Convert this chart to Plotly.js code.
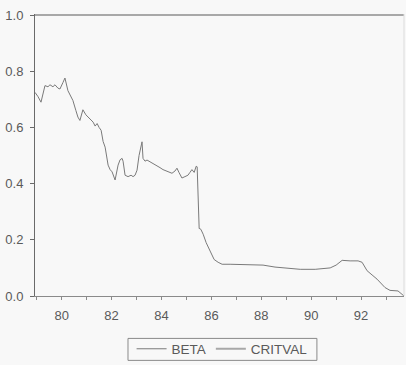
<!DOCTYPE html>
<html>
<head>
<meta charset="utf-8">
<script src="https://cdn.plot.ly/plotly-3.0.1.min.js"></script>
<style>
  html, body { margin: 0; padding: 0; background: #f8f8f8; }
  #chart { width: 406px; height: 365px; }
</style>
</head>
<body>
<div id="chart"></div>
<script>
// Sample dates (decimal years, 2-digit) and the estimated beta path
const dates = [
  78.93, 79.05, 79.17, 79.33, 79.45, 79.53, 79.65, 79.73, 79.85, 79.93,
  80.05, 80.13, 80.25, 80.45, 80.57, 80.65, 80.73, 80.85, 80.97, 81.06,
  81.18, 81.26, 81.34, 81.42, 81.50, 81.58, 81.66, 81.74, 81.86, 81.94,
  82.02, 82.14, 82.26, 82.34, 82.42, 82.46, 82.54, 82.66, 82.78, 82.86,
  82.94, 83.02, 83.10, 83.22, 83.26, 83.34, 83.42, 83.54, 83.66, 83.78,
  83.94, 84.06, 84.22, 84.34, 84.42, 84.54, 84.62, 84.70, 84.82, 84.94,
  85.06, 85.14, 85.22, 85.31, 85.39, 85.43, 85.47, 85.51, 85.55, 85.59,
  85.67, 85.79, 85.95, 86.11, 86.27, 86.43, 86.75, 87.15, 87.55, 88.07,
  88.55, 89.03, 89.56, 90.16, 90.76, 91.00, 91.24, 91.56, 91.88, 92.04,
  92.24, 92.44, 92.64, 92.96, 93.16, 93.48, 93.72
];
const beta = [
  0.725, 0.71, 0.69, 0.749, 0.745, 0.752, 0.745, 0.752, 0.74, 0.737,
  0.76, 0.776, 0.731, 0.696, 0.66, 0.637, 0.625, 0.663, 0.645, 0.636,
  0.625, 0.619, 0.605, 0.614, 0.60, 0.59, 0.55, 0.53, 0.466, 0.45,
  0.442, 0.413, 0.466, 0.485, 0.49, 0.48, 0.43, 0.425, 0.43, 0.425,
  0.43, 0.448, 0.50, 0.549, 0.49, 0.48, 0.484, 0.478, 0.473, 0.467,
  0.457, 0.45, 0.443, 0.44, 0.437, 0.445, 0.455, 0.44, 0.42, 0.425,
  0.43, 0.44, 0.45, 0.44, 0.462, 0.46, 0.30, 0.24, 0.24, 0.235,
  0.22, 0.19, 0.16, 0.13, 0.12, 0.113, 0.113, 0.112, 0.11, 0.11,
  0.103, 0.099, 0.095, 0.095, 0.10, 0.11, 0.127, 0.125, 0.125, 0.12,
  0.09, 0.075, 0.06, 0.03, 0.02, 0.018, 0.0
];
// Critical value of the test statistic
const critDates = [78.93, 93.72];
const critval = [1.0, 1.0];

const yTicks = [0.0, 0.2, 0.4, 0.6, 0.8, 1.0];
const yTickText = ['0.0', '0.2', '0.4', '0.6', '0.8', '1.0'];
const xTicks = [80, 82, 84, 86, 88, 90, 92];
const xTickText = ['80', '82', '84', '86', '88', '90', '92'];

const traces = [
  {
    x: dates, y: beta, name: 'BETA', type: 'scatter', mode: 'lines',
    line: { color: '#7a7a7a', width: 1 }
  },
  {
    x: critDates, y: critval, name: 'CRITVAL', type: 'scatter', mode: 'lines',
    line: { color: '#a8a8a8', width: 2 }
  }
];

const layout = {
  width: 406, height: 365,
  margin: { l: 35, r: 2, t: 14, b: 68.5, autoexpand: false },
  paper_bgcolor: '#f8f8f8',
  plot_bgcolor: '#f8f8f8',
  font: { family: 'Liberation Sans, Arial, sans-serif', size: 13, color: '#5a5a5a' },
  showlegend: true,
  legend: {
    orientation: 'h',
    x: 0.507, xanchor: 'center',
    y: -0.133, yanchor: 'top',
    borderwidth: 0,
    bgcolor: 'rgba(0,0,0,0)',
    font: { size: 13.5, color: '#5a5a5a' },
    itemwidth: 30,
    tracegroupgap: 0
  },
  xaxis: {
    range: [78.93, 93.72],
    tickvals: xTicks, ticktext: xTickText,
    ticks: 'outside', ticklen: 3, tickcolor: '#8a8a8a',
    minor: { dtick: 1, tick0: 79, ticks: 'outside', ticklen: 3, tickcolor: '#8a8a8a' },
    showgrid: false, zeroline: false,
    showline: true, linecolor: '#8a8a8a', linewidth: 1,
    ticklabelstandoff: 4
  },
  yaxis: {
    range: [0, 1.004],
    tickvals: yTicks, ticktext: yTickText,
    ticks: 'outside', ticklen: 4, tickcolor: '#6a6a6a',
    showgrid: false, zeroline: false,
    showline: true, linecolor: '#6a6a6a', linewidth: 1,
    ticklabelstandoff: 4
  },
  shapes: [
    // faint right-hand frame edge
    {
      type: 'line', xref: 'paper', yref: 'paper',
      x0: 1, x1: 1, y0: 0, y1: 1,
      line: { color: '#dcdcdc', width: 1 }
    },
    // frame around the legend
    {
      type: 'rect', xref: 'paper', yref: 'paper',
      x0: 0.252, x1: 0.764, y0: -0.2283, y1: -0.1504,
      line: { color: '#8a8a8a', width: 1 },
      fillcolor: 'rgba(0,0,0,0)'
    }
  ]
};

Plotly.newPlot('chart', traces, layout, { staticPlot: true, displayModeBar: false });
</script>
</body>
</html>
